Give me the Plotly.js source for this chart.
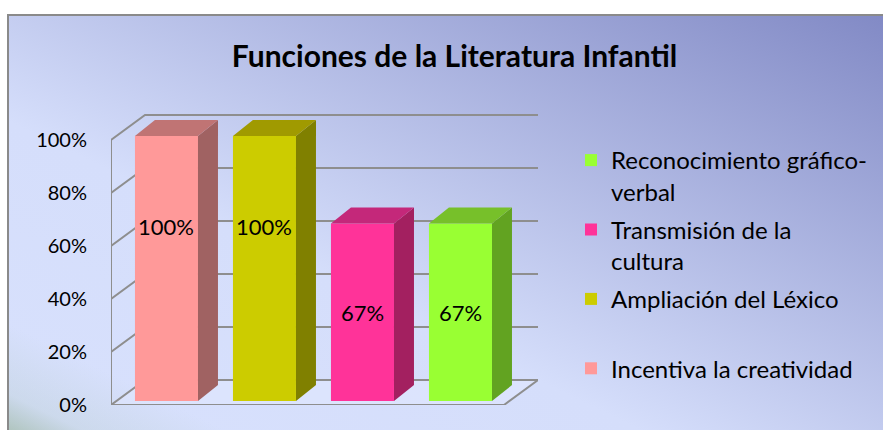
<!DOCTYPE html>
<html>
<head>
<meta charset="utf-8">
<script src="https://cdn.plot.ly/plotly-3.0.1.min.js"></script>
<style>
  html, body { margin: 0; padding: 0; background: #ffffff; }
  #wrap { position: relative; width: 883px; height: 430px; overflow: hidden; background: #ffffff; }
  #bg {
    position: absolute; left: 7px; top: 14px; width: 900px; height: 440px;
    border-top: 2px solid #8a8a8a; border-left: 2px solid #8a8a8a;
    background:
      linear-gradient(to top right, rgba(150,178,150,0.9) 0%, rgba(190,208,215,0.45) 7%, rgba(214,224,252,0) 15%),
      linear-gradient(to top right, #d8e1fd 0%, #d5defb 38%, #8088c4 100%);
  }
  #chart { position: absolute; left: 0; top: 0; width: 883px; height: 430px; }
</style>
</head>
<body>
<div id="wrap"><div id="bg"></div><div id="chart"></div></div>
<script>
// ---- data ----
const categories = ['Incentiva la creatividad', 'Ampliación del Léxico', 'Transmisión de la cultura', 'Reconocimiento gráfico-verbal'];
const legendNames = ['Incentiva la creatividad<br> ', 'Ampliación del Léxico<br> ', 'Transmisión de la<br>cultura', 'Reconocimiento gráfico-<br>verbal'];
const values = [1.00, 1.00, 0.67, 0.67];
const valueLabels = ['100%', '100%', '67%', '67%'];
const yTickVals = [0, 0.2, 0.4, 0.6, 0.8, 1.0];
const yTickText = ['0%', '20%', '40%', '60%', '80%', '100%'];

// ---- styles ----
const frontColors = ['#ff9999', '#cccc00', '#ff3399', '#99ff33'];
const sideColors  = ['#a06262', '#808000', '#a32060', '#62a321'];
const topColors   = ['#c07474', '#a09a00', '#c4287a', '#77c02a'];
const labelFrac = [0.66, 0.66, 0.5, 0.5];
const FONT = 'Lato, "Open Sans", sans-serif';
const BAR_W = 0.643;
const DX = 0.204, DY = 0.060;             // bar depth projection
const X_LF = -0.566, X_LB = -0.219;       // left wall front / back
const X_RB = 3.791, X_RF = 3.444;         // right end back / front
const Y_F = -0.0151, Y_B = 0.079;         // front / back plane offsets
const GRID = '#8e8e8e';

// legend lists series in reverse order (as in the original)
const traces = categories.map((c, i) => ({
  type: 'bar',
  x: [i], y: [values[i]],
  name: legendNames[i],
  width: BAR_W,
  marker: { color: frontColors[i], line: { width: 0 } },
  hoverinfo: 'skip',
  legendgroup: 'g' + i
})).reverse();

const shapes = [];
// floor
shapes.push({
  type: 'path', xref: 'x', yref: 'y', layer: 'below',
  path: `M${X_LF},${Y_F} L${X_RF},${Y_F} L${X_RB},${Y_B} L${X_LB},${Y_B} Z`,
  fillcolor: 'rgba(222,230,253,0.7)', line: { color: GRID, width: 2 }
});
// gridlines (side wall + back wall)
yTickVals.forEach(v => {
  if (v === 0) return;
  shapes.push({
    type: 'path', xref: 'x', yref: 'y', layer: 'below',
    path: `M${X_LF},${v + Y_F} L${X_LB},${v + Y_B} L${X_RB},${v + Y_B}`,
    line: { color: GRID, width: 2 }
  });
});
// left wall front edge
shapes.push({
  type: 'line', xref: 'x', yref: 'y', layer: 'below',
  x0: X_LF, x1: X_LF, y0: Y_F, y1: yTickVals[yTickVals.length - 1] + Y_F,
  line: { color: GRID, width: 2 }
});
// 3D side and top faces for each bar
values.forEach((v, i) => {
  const xl = i - BAR_W / 2, xr = i + BAR_W / 2;
  shapes.push({
    type: 'path', xref: 'x', yref: 'y', layer: 'above',
    path: `M${xr},0 L${xr + DX},${DY} L${xr + DX},${v + DY} L${xr},${v} Z`,
    fillcolor: sideColors[i], line: { width: 0 }
  });
  shapes.push({
    type: 'path', xref: 'x', yref: 'y', layer: 'above',
    path: `M${xl},${v} L${xr},${v} L${xr + DX},${v + DY} L${xl + DX},${v + DY} Z`,
    fillcolor: topColors[i], line: { width: 0 }
  });
});

const annotations = values.map((v, i) => ({
  x: i, y: v * labelFrac[i], xref: 'x', yref: 'y',
  text: valueLabels[i], showarrow: false,
  font: { family: FONT, size: 22, color: '#000000' }
}));

const layout = {
  width: 883, height: 430,
  margin: { l: 111, r: 345, t: 114, b: 25 },
  paper_bgcolor: 'rgba(0,0,0,0)',
  plot_bgcolor: 'rgba(0,0,0,0)',
  barmode: 'overlay',
  title: {
    text: '<b>Funciones de la Literatura Infantil</b>',
    font: { family: FONT, size: 30, color: '#000000' },
    xref: 'container', yref: 'container',
    x: 454.5 / 883, xanchor: 'center',
    y: 1 - 56 / 430, yanchor: 'middle'
  },
  xaxis: {
    range: [X_LF, X_RB], showgrid: false, zeroline: false,
    showticklabels: false, showline: false, fixedrange: true
  },
  yaxis: {
    range: [Y_F, 1 + Y_B + 0.004], showgrid: false, zeroline: false, showline: false,
    tickvals: yTickVals.map(v => v + Y_F), ticktext: yTickText,
    ticks: '', ticklabelstandoff: 23,
    tickfont: { family: FONT, size: 20, color: '#000000' }, fixedrange: true
  },
  showlegend: true,
  legend: {
    xref: 'container', yref: 'container',
    x: 571 / 883, xanchor: 'left',
    y: 1 - 138 / 430, yanchor: 'top',
    traceorder: 'grouped', valign: 'top',
    tracegroupgap: 4,
    maxheight: 1,
    bgcolor: 'rgba(0,0,0,0)',
    font: { family: FONT, size: 24, color: '#000000' }
  },
  shapes: shapes,
  annotations: annotations
};

Plotly.newPlot('chart', traces, layout, { displayModeBar: false, staticPlot: true });
</script>
</body>
</html>
